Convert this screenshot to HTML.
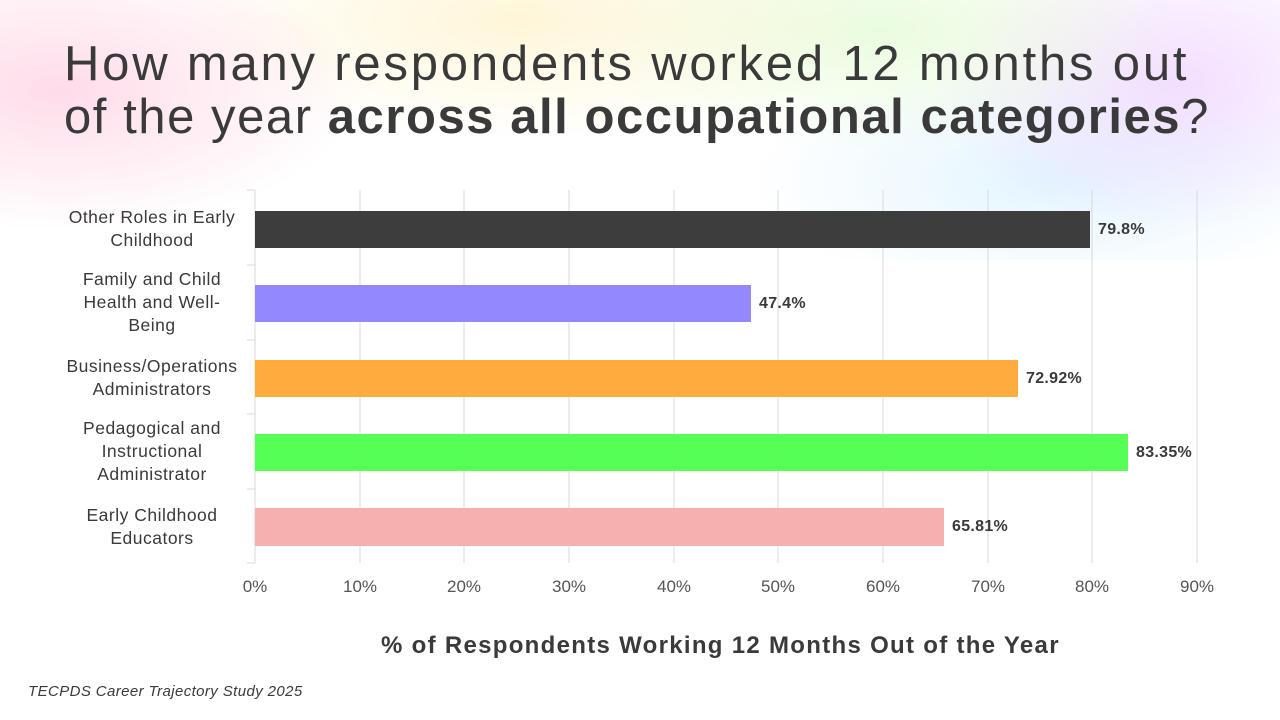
<!DOCTYPE html>
<html><head><meta charset="utf-8"><style>
body{margin:0;width:1280px;height:720px;overflow:hidden;background:#fff;font-family:"Liberation Sans",sans-serif;position:relative}
.bg{position:absolute;left:0;top:0;width:1280px;height:260px;
background:
radial-gradient(ellipse 300px 140px at 60px 90px,rgba(255,190,215,.55),transparent),
radial-gradient(ellipse 350px 120px at 520px 20px,rgba(255,240,190,.6),transparent),
radial-gradient(ellipse 300px 120px at 880px 30px,rgba(220,250,200,.6),transparent),
radial-gradient(ellipse 250px 150px at 1180px 80px,rgba(235,200,255,.6),transparent),
radial-gradient(ellipse 300px 120px at 1050px 180px,rgba(200,235,255,.5),transparent);}
.title{position:absolute;left:64px;top:38px;font-size:49px;line-height:53px;color:#3a3a3a;white-space:nowrap}
.lab{position:absolute;width:240px;left:32px;text-align:center;font-size:17.5px;line-height:23px;color:#3a3a3a;letter-spacing:0.5px}
.tick{position:absolute;top:577px;font-size:17px;color:#555;width:60px;margin-left:-30px;text-align:center}
.val{position:absolute;font-size:16px;font-weight:bold;color:#3a3a3a;letter-spacing:0.3px}
</style></head><body>
<div class="bg"></div>
<div class="title"><span style="letter-spacing:2.8px">How many respondents worked 12 months out</span><br><span style="letter-spacing:1.55px">of the year <b>across all occupational categories</b>?</span></div>
<svg width="1280" height="720" style="position:absolute;left:0;top:0">
<g stroke="#d9d9d9" stroke-width="1">
<line x1="360" y1="190" x2="360" y2="563"/><line x1="464" y1="190" x2="464" y2="563"/><line x1="569" y1="190" x2="569" y2="563"/><line x1="674" y1="190" x2="674" y2="563"/><line x1="778" y1="190" x2="778" y2="563"/><line x1="883" y1="190" x2="883" y2="563"/><line x1="988" y1="190" x2="988" y2="563"/><line x1="1092" y1="190" x2="1092" y2="563"/><line x1="1197" y1="190" x2="1197" y2="563"/>
<line x1="255" y1="190" x2="255" y2="563"/>
<line x1="247" y1="190" x2="255" y2="190"/><line x1="247" y1="265" x2="255" y2="265"/><line x1="247" y1="340" x2="255" y2="340"/><line x1="247" y1="414" x2="255" y2="414"/><line x1="247" y1="489" x2="255" y2="489"/><line x1="247" y1="563" x2="255" y2="563"/>
</g>
<rect x="255" y="211" width="835" height="37" fill="#3d3d3d"/>
<rect x="255" y="285" width="496" height="37" fill="#9488ff"/>
<rect x="255" y="360" width="763" height="37" fill="#ffab3d"/>
<rect x="255" y="434" width="873" height="37" fill="#55ff55"/>
<rect x="255" y="508" width="689" height="38" fill="#f7b0b0"/>
</svg>
<div class="lab" style="top:206px">Other Roles in Early<br>Childhood</div>
<div class="lab" style="top:268px">Family and Child<br>Health and Well-<br>Being</div>
<div class="lab" style="top:355px">Business/Operations<br>Administrators</div>
<div class="lab" style="top:417px">Pedagogical and<br>Instructional<br>Administrator</div>
<div class="lab" style="top:504px">Early Childhood<br>Educators</div>
<div class="val" style="left:1098px;top:221px">79.8%</div>
<div class="val" style="left:759px;top:295px">47.4%</div>
<div class="val" style="left:1026px;top:370px">72.92%</div>
<div class="val" style="left:1136px;top:444px">83.35%</div>
<div class="val" style="left:952px;top:518px">65.81%</div>
<div class="tick" style="left:255px">0%</div><div class="tick" style="left:360px">10%</div><div class="tick" style="left:464px">20%</div><div class="tick" style="left:569px">30%</div><div class="tick" style="left:674px">40%</div><div class="tick" style="left:778px">50%</div><div class="tick" style="left:883px">60%</div><div class="tick" style="left:988px">70%</div><div class="tick" style="left:1092px">80%</div><div class="tick" style="left:1197px">90%</div>
<div style="position:absolute;left:381px;top:632px;font-size:24px;font-weight:bold;color:#3a3a3a;letter-spacing:1.3px;white-space:nowrap">% of Respondents Working 12 Months Out of the Year</div>
<div style="position:absolute;left:28px;top:683px;font-size:15px;font-style:italic;color:#3a3a3a;letter-spacing:0.4px">TECPDS Career Trajectory Study 2025</div>
</body></html>
